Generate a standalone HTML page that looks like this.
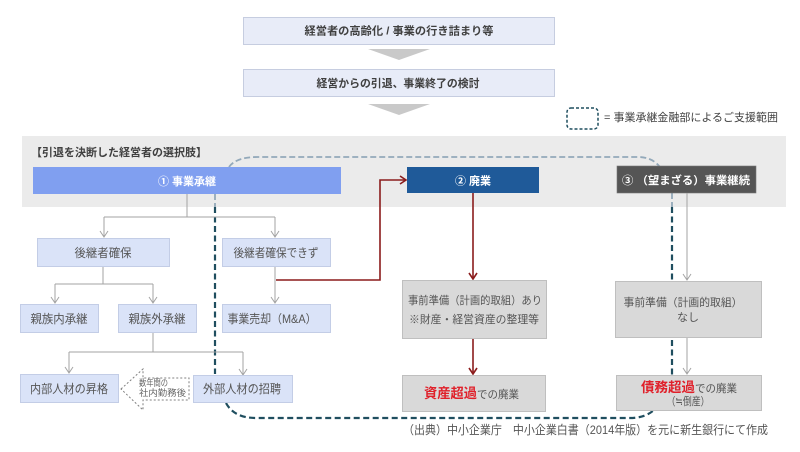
<!DOCTYPE html>
<html><head><meta charset="utf-8">
<style>
html,body{margin:0;padding:0;background:#fff;}
svg{display:block;}
text{font-family:"Liberation Sans","Noto Sans CJK JP",sans-serif;}
</style></head>
<body>
<svg width="800" height="452" viewBox="0 0 800 452" xmlns="http://www.w3.org/2000/svg">
<rect width="800" height="452" fill="#fff"/>
<!-- top boxes -->
<rect x="243.5" y="17.5" width="311" height="27" fill="#e8ecf8" stroke="#c6cde0"/>
<text x="399" y="34.5" font-size="11" font-weight="bold" fill="#404040" text-anchor="middle" textLength="189" lengthAdjust="spacingAndGlyphs">経営者の高齢化 / 事業の行き詰まり等</text>
<polygon points="368,49 430,49 399,60" fill="#c9c9c9"/>
<rect x="243.5" y="69.5" width="311" height="27" fill="#e8ecf8" stroke="#c6cde0"/>
<text x="398" y="87" font-size="11" font-weight="bold" fill="#404040" text-anchor="middle" textLength="163" lengthAdjust="spacingAndGlyphs">経営からの引退、事業終了の検討</text>
<polygon points="368,104 430,104 399,115" fill="#c9c9c9"/>
<!-- legend -->
<rect x="567" y="108" width="31" height="21" rx="4" fill="none" stroke="#1f4e5f" stroke-width="1.5" stroke-dasharray="3,2"/>
<text x="604" y="121" font-size="11" fill="#404040" textLength="174" lengthAdjust="spacingAndGlyphs">= 事業承継金融部によるご支援範囲</text>
<!-- panel -->
<rect x="22" y="136" width="764" height="71" fill="#ebebeb"/>
<text x="31" y="156" font-size="11" font-weight="bold" fill="#404040" textLength="176" lengthAdjust="spacingAndGlyphs">【引退を決断した経営者の選択肢】</text>
<!-- light dashed in panel -->
<g fill="none" stroke="#93a9ba" stroke-width="1.8" stroke-dasharray="6,3">
<path d="M229 167 Q236 157 258 157 L638 157 Q652 157 660 167"/>
<path d="M215 194 V207"/>
<path d="M672 193 V207"/>
</g>
<!-- option boxes -->
<rect x="33" y="167" width="308" height="27" fill="#809ff0"/>
<text x="187" y="185" font-size="11" font-weight="bold" fill="#fff" text-anchor="middle">①  事業承継</text>
<rect x="407" y="167" width="132" height="26" fill="#1f5a99"/>
<text x="473" y="184.5" font-size="11" font-weight="bold" fill="#fff" text-anchor="middle">②  廃業</text>
<rect x="617" y="166" width="139" height="27" fill="#555" stroke="#777" stroke-width="0.6"/>
<text x="686" y="184" font-size="11" font-weight="bold" fill="#fff" text-anchor="middle" textLength="128" lengthAdjust="spacingAndGlyphs">③ （望まざる）事業継続</text>
<!-- dark dashed -->
<g fill="none" stroke="#1f4e5f" stroke-width="2.2" stroke-dasharray="6,3.5">
<path d="M215 207 V374"/>
<path d="M672 207 V375"/>
<path d="M226 403 Q234 418 256 418 L630 418 Q645 418 654 410"/>
</g>
<!-- gray connectors -->
<g fill="none" stroke="#a3a3a3" stroke-width="1">
<path d="M187 194 V217 M104 217 H275 M104 217 V237 M275 217 V237"/>
<path d="M103 266 V284 M55 284 H153 M55 284 V303 M153 284 V303"/>
<path d="M275 266 V303"/>
<path d="M153 332 V352 M69 352 H243 M69 352 V373 M243 352 V375"/>
<path d="M687 193 V280 M687 337 V374"/>
<polyline points="100,231 104,237 108,231"/>
<polyline points="271,231 275,237 279,231"/>
<polyline points="51,297 55,303 59,297"/>
<polyline points="149,297 153,303 157,297"/>
<polyline points="271,297 275,303 279,297"/>
<polyline points="65,367 69,373 73,367"/>
<polyline points="239,369 243,375 247,369"/>
<polyline points="683,274 687,280 691,274"/>
<polyline points="683,368 687,374 691,368"/>
</g>
<!-- red connectors -->
<g fill="none" stroke="#8b1c1c" stroke-width="1.6">
<path d="M276 280 H380 V180 H406"/>
<polyline points="400,176 406,180 400,184"/>
<path d="M473 193 V279"/>
<polyline points="469,273 473,279 477,273"/>
<path d="M473 338 V374"/>
<polyline points="469,368 473,374 477,368"/>
</g>
<!-- left light blue boxes -->
<g fill="#dae3f8" stroke="#c3cde6" stroke-width="1">
<rect x="37.5" y="238.5" width="132" height="28"/>
<rect x="222.5" y="238.5" width="108" height="28"/>
<rect x="20.5" y="304.5" width="78" height="28"/>
<rect x="118.5" y="304.5" width="78" height="28"/>
<rect x="222.5" y="304.5" width="108" height="28"/>
<rect x="20.5" y="374.5" width="98" height="28"/>
<rect x="193.5" y="375.5" width="99" height="27"/>
</g>
<g font-size="12" fill="#555">
<text x="103" y="257" text-anchor="middle" textLength="57" lengthAdjust="spacingAndGlyphs">後継者確保</text>
<text x="276" y="257" text-anchor="middle" textLength="85" lengthAdjust="spacingAndGlyphs">後継者確保できず</text>
<text x="59" y="323" text-anchor="middle" textLength="57" lengthAdjust="spacingAndGlyphs">親族内承継</text>
<text x="157" y="323" text-anchor="middle" textLength="57" lengthAdjust="spacingAndGlyphs">親族外承継</text>
<text x="272" y="323" text-anchor="middle" textLength="89" lengthAdjust="spacingAndGlyphs">事業売却（M&amp;A）</text>
<text x="69" y="393" text-anchor="middle" textLength="78" lengthAdjust="spacingAndGlyphs">内部人材の昇格</text>
<text x="242" y="393" text-anchor="middle" textLength="78" lengthAdjust="spacingAndGlyphs">外部人材の招聘</text>
</g>
<!-- dashed block arrow -->
<polygon points="121,389 143,369 143,378 189,378 189,400 143,400 143,410" fill="#fff" stroke="#808080" stroke-width="1" stroke-dasharray="2,2"/>
<text x="139" y="386" font-size="9" fill="#666" textLength="29" lengthAdjust="spacingAndGlyphs">数年間の</text>
<text x="139" y="396" font-size="9" fill="#666" textLength="47" lengthAdjust="spacingAndGlyphs">社内勤務後</text>
<!-- gray boxes right -->
<g fill="#d9d9d9" stroke="#bfbfbf" stroke-width="1">
<rect x="402.5" y="280.5" width="144" height="58"/>
<rect x="402.5" y="375.5" width="143" height="36"/>
<rect x="615.5" y="281.5" width="146" height="56"/>
<rect x="616.5" y="375.5" width="145" height="35"/>
</g>
<g font-size="11" fill="#555">
<text x="475" y="304" text-anchor="middle" textLength="134" lengthAdjust="spacingAndGlyphs">事前準備（計画的取組）あり</text>
<text x="474" y="323" text-anchor="middle" textLength="130" lengthAdjust="spacingAndGlyphs">※財産・経営資産の整理等</text>
<text x="683" y="306" text-anchor="middle" textLength="119" lengthAdjust="spacingAndGlyphs">事前準備（計画的取組）</text>
<text x="688" y="321" text-anchor="middle">なし</text>
<text x="688" y="405" text-anchor="middle" textLength="43" lengthAdjust="spacingAndGlyphs">（≒倒産）</text>
</g>
<text x="424" y="398" font-size="13.5" font-weight="bold" fill="#e0202a" textLength="53" lengthAdjust="spacingAndGlyphs">資産超過</text>
<text x="477" y="398" font-size="11" fill="#555" textLength="42" lengthAdjust="spacingAndGlyphs">での廃業</text>
<text x="641" y="392" font-size="13.5" font-weight="bold" fill="#e0202a" textLength="54" lengthAdjust="spacingAndGlyphs">債務超過</text>
<text x="695" y="392" font-size="11" fill="#555" textLength="42" lengthAdjust="spacingAndGlyphs">での廃業</text>
<!-- footer -->
<text x="403" y="434" font-size="12" fill="#555" textLength="365" lengthAdjust="spacingAndGlyphs">（出典）中小企業庁　中小企業白書（2014年版）を元に新生銀行にて作成</text>
</svg>
</body></html>
